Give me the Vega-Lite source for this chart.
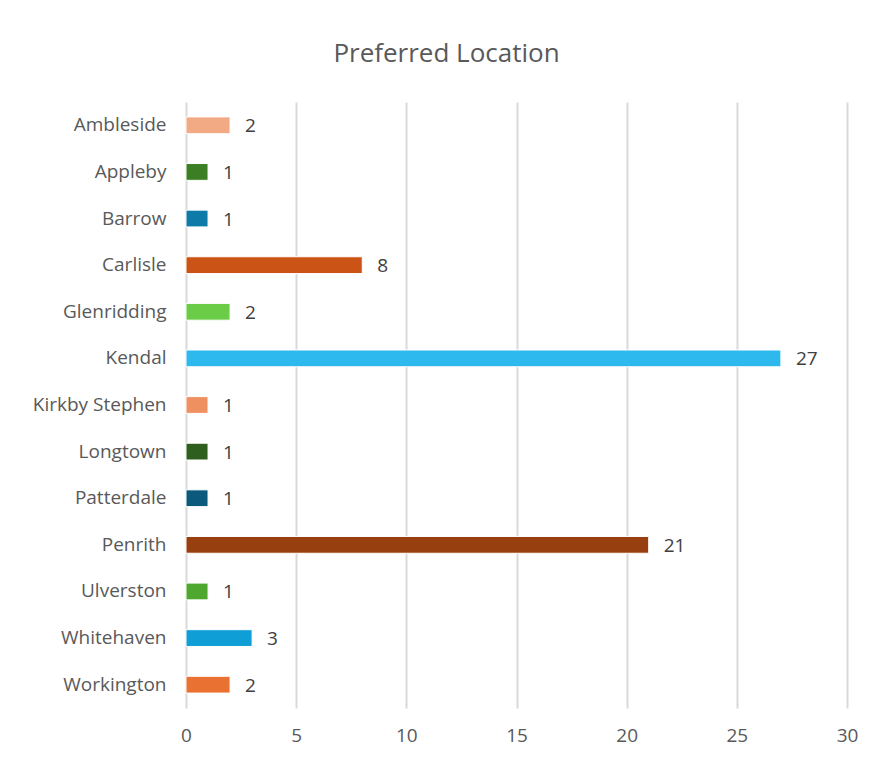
{
  "$schema": "https://vega.github.io/schema/vega-lite/v6.json",
  "width": 661,
  "height": 606,
  "autosize": "none",
  "padding": {"left": 186, "top": 102, "right": 30, "bottom": 50},
  "background": "white",
  "title": {
    "text": "Preferred Location",
    "fontSize": 26,
    "font": "Open Sans",
    "fontWeight": "normal",
    "color": "#595959",
    "anchor": "middle",
    "dx": -70,
    "offset": 35
  },
  "data": {
    "values": [
      {"location": "Ambleside", "count": 2, "color": "#F2AA84"},
      {"location": "Appleby", "count": 1, "color": "#3B7E23"},
      {"location": "Barrow", "count": 1, "color": "#0D7AA8"},
      {"location": "Carlisle", "count": 8, "color": "#CA5315"},
      {"location": "Glenridding", "count": 2, "color": "#6BCD47"},
      {"location": "Kendal", "count": 27, "color": "#2DB9EE"},
      {"location": "Kirkby Stephen", "count": 1, "color": "#EF9060"},
      {"location": "Longtown", "count": 1, "color": "#2E5F1F"},
      {"location": "Patterdale", "count": 1, "color": "#0B5A7D"},
      {"location": "Penrith", "count": 21, "color": "#983F10"},
      {"location": "Ulverston", "count": 1, "color": "#4EA72E"},
      {"location": "Whitehaven", "count": 3, "color": "#0F9ED5"},
      {"location": "Workington", "count": 2, "color": "#E97132"}
    ]
  },
  "encoding": {
    "y": {
      "field": "location",
      "type": "nominal",
      "sort": null,
      "scale": {"paddingInner": 0.64, "paddingOuter": 0.32},
      "axis": {
        "title": null,
        "domain": false,
        "ticks": false,
        "labelPadding": 20,
        "labelFontSize": 19,
        "labelFont": "Open Sans",
        "labelColor": "#595959",
        "grid": false
      }
    },
    "x": {
      "field": "count",
      "type": "quantitative",
      "scale": {"domain": [0, 30], "nice": false},
      "axis": {
        "title": null,
        "values": [0, 5, 10, 15, 20, 25, 30],
        "domain": false,
        "ticks": false,
        "grid": true,
        "gridColor": "#D9D9D9",
        "gridWidth": 2,
        "labelFlush": false,
        "labelPadding": 18,
        "labelFontSize": 19,
        "labelFont": "Open Sans",
        "labelColor": "#595959"
      }
    }
  },
  "layer": [
    {
      "mark": {"type": "bar", "stroke": "white", "strokeWidth": 1},
      "encoding": {
        "color": {"field": "color", "type": "nominal", "scale": null, "legend": null}
      }
    },
    {
      "mark": {
        "type": "text",
        "align": "left",
        "baseline": "middle",
        "dx": 15,
        "dy": 1,
        "fontSize": 19,
        "font": "Open Sans",
        "color": "#404040"
      },
      "encoding": {
        "text": {"field": "count", "type": "quantitative"}
      }
    }
  ],
  "config": {"view": {"stroke": null}}
}
